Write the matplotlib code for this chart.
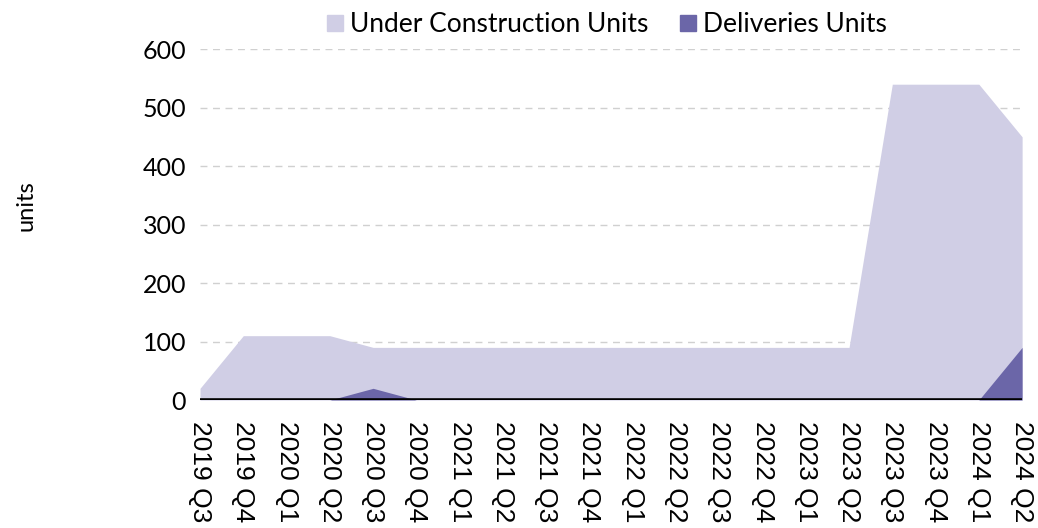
import numpy as np
import matplotlib.pyplot as plt
from matplotlib.patches import Patch

quarters = ['2019 Q3', '2019 Q4', '2020 Q1', '2020 Q2', '2020 Q3', '2020 Q4',
            '2021 Q1', '2021 Q2', '2021 Q3', '2021 Q4', '2022 Q1', '2022 Q2',
            '2022 Q3', '2022 Q4', '2023 Q1', '2023 Q2', '2023 Q3', '2023 Q4',
            '2024 Q1', '2024 Q2']
under_construction = [20, 110, 110, 110, 90, 90, 90, 90, 90, 90, 90, 90,
                      90, 90, 90, 90, 540, 540, 540, 450]
deliveries = [0, 0, 0, 0, 20, 0, 0, 0, 0, 0, 0, 0,
              0, 0, 0, 0, 0, 0, 0, 90]

uc_color = '#d0cee5'
del_color = '#6b66a8'

fig = plt.figure(figsize=(10.38, 5.28), dpi=100)
ax = fig.add_axes([0.1927, 0.2424, 0.792, 0.6646])

x = np.arange(len(quarters))
ax.fill_between(x, under_construction, color=uc_color, lw=0, zorder=2)
ax.fill_between(x, deliveries, color=del_color, lw=0, zorder=3)

ax.set_xlim(0, len(quarters) - 1)
ax.set_ylim(0, 600)
ax.set_yticks(range(0, 601, 100))
ax.set_xticks(x)
ax.set_xticklabels(quarters, rotation=270, fontsize=19, family='Liberation Sans')
for lab in ax.get_yticklabels():
    lab.set_fontfamily('Lato')
    lab.set_fontsize(18)

ax.grid(axis='y', color='#d0d0d0', linestyle=(0, (5, 4)), lw=1, zorder=0)
ax.axhline(0, color='black', lw=2.6, zorder=4)
for s in ax.spines.values():
    s.set_visible(False)
ax.tick_params(length=0, pad=10)
ax.tick_params(axis='x', pad=15)

fig.text(0.025, 0.61, 'units', rotation=90, fontsize=17, family='Lato',
         ha='center', va='center')

handles = [Patch(color=uc_color, label='Under Construction Units'),
           Patch(color=del_color, label='Deliveries Units')]
fig.legend(handles=handles, loc='center', bbox_to_anchor=(0.585, 0.953),
           ncol=2, frameon=False, prop={'family': 'Lato', 'size': 19},
           handlelength=0.6, handleheight=0.6, handletextpad=0.27,
           columnspacing=1.2, borderpad=0)

fig.savefig('out.png', dpi=100)
